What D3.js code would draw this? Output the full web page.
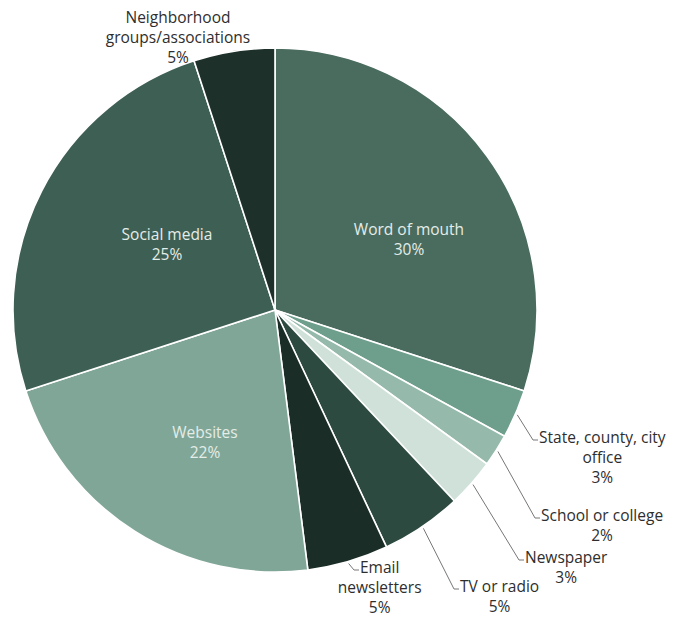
<!DOCTYPE html>
<html>
<head>
<meta charset="utf-8">
<script src="https://cdn.jsdelivr.net/npm/d3@7"></script>
<style>
  html, body { margin: 0; padding: 0; background: #fff; }
  svg text { font-family: "Open Sans", "Liberation Sans", Arial, sans-serif; }
</style>
</head>
<body>
<svg id="chart" width="684" height="621"></svg>
<script>
// How people hear about local events (share of responses, %)
const categories = [
  "Word of mouth",
  "State, county, city office",
  "School or college",
  "Newspaper",
  "TV or radio",
  "Email newsletters",
  "Websites",
  "Social media",
  "Neighborhood groups/associations"
];
const values = [30, 3, 2, 3, 5, 5, 22, 25, 5];
const labelLines = [
  ["Word of mouth"],
  ["State, county, city", "office"],
  ["School or college"],
  ["Newspaper"],
  ["TV or radio"],
  ["Email", "newsletters"],
  ["Websites"],
  ["Social media"],
  ["Neighborhood", "groups/associations"]
];
const colors = ["#4a6c5f", "#6e9e8c", "#95b9aa", "#cfe1d8", "#2d4a41",
                "#1b2d27", "#80a697", "#3e5f54", "#1e302a"];

// Label placement: inside labels get a point, outside labels a leader-line end.
const layout = {
  "Word of mouth": { mode: "inside", x: 409, y: 240 },
  "Social media": { mode: "inside", x: 167, y: 245 },
  "Websites": { mode: "inside", x: 205, y: 443 },
  "Neighborhood groups/associations": { mode: "above", x: 178, y: 23 },
  "State, county, city office": { mode: "leader", x: 533, y: 440 },
  "School or college": { mode: "leader", x: 535, y: 518 },
  "Newspaper": { mode: "leader", x: 519, y: 560 },
  "TV or radio": { mode: "leader", x: 454, y: 589 },
  "Email newsletters": { mode: "leader", x: 354, y: 570 }
};

const cx = 275, cy = 310, radius = 262;
const svg = d3.select("#chart");
const g = svg.append("g").attr("transform", `translate(${cx},${cy})`);

const data = categories.map((c, i) => ({ name: c, value: values[i], lines: labelLines[i], color: colors[i] }));

const pie = d3.pie().sort(null).value(d => d.value);
const arcs = pie(data);
const arc = d3.arc().innerRadius(0).outerRadius(radius);
const edgeArc = d3.arc().innerRadius(radius + 2).outerRadius(radius + 2);

g.selectAll("path.slice")
  .data(arcs)
  .enter().append("path")
  .attr("class", "slice")
  .attr("d", arc)
  .attr("fill", d => d.data.color)
  .attr("stroke", "#ffffff")
  .attr("stroke-width", 1.6)
  .attr("stroke-linejoin", "round");

const lineH = 20;
const fontSize = 15.5;

arcs.forEach(d => {
  const L = layout[d.data.name];
  const pct = d.data.value + "%";
  if (L.mode === "inside") {
    const lines = d.data.lines.concat([pct]);
    const top = L.y - (lines.length - 1) * lineH / 2;
    lines.forEach((t, i) => {
      svg.append("text")
        .attr("x", L.x).attr("y", top + i * lineH)
        .attr("dy", "0.35em")
        .attr("text-anchor", "middle")
        .attr("font-size", fontSize)
        .attr("fill", "#e4ede8")
        .text(t);
    });
  } else if (L.mode === "above") {
    const lines = d.data.lines.concat([pct]);
    lines.forEach((t, i) => {
      svg.append("text")
        .attr("x", L.x).attr("y", L.y + i * lineH)
        .attr("text-anchor", "middle")
        .attr("font-size", fontSize)
        .attr("fill", "#2e2e2e")
        .text(t);
    });
  } else {
    // leader line from the rim down to the label, with a short foot
    const [sx, sy] = edgeArc.centroid(d);
    const foot = 5;
    svg.append("path")
      .attr("d", `M${cx + sx},${cy + sy} L${L.x},${L.y} L${L.x + foot},${L.y}`)
      .attr("fill", "none")
      .attr("stroke", "#777777")
      .attr("stroke-width", 1);
    const lines = d.data.lines.concat([pct]);
    const first = svg.append("text")
      .attr("x", L.x + foot + 1).attr("y", L.y + 3)
      .attr("font-size", fontSize)
      .attr("fill", "#2e2e2e")
      .text(lines[0]);
    const w = first.node().getComputedTextLength();
    const mid = L.x + foot + 1 + w / 2;
    first.attr("x", mid).attr("text-anchor", "middle");
    lines.slice(1).forEach((t, i) => {
      svg.append("text")
        .attr("x", mid).attr("y", L.y + 3 + (i + 1) * lineH)
        .attr("text-anchor", "middle")
        .attr("font-size", fontSize)
        .attr("fill", "#2e2e2e")
        .text(t);
    });
  }
});
</script>
</body>
</html>
